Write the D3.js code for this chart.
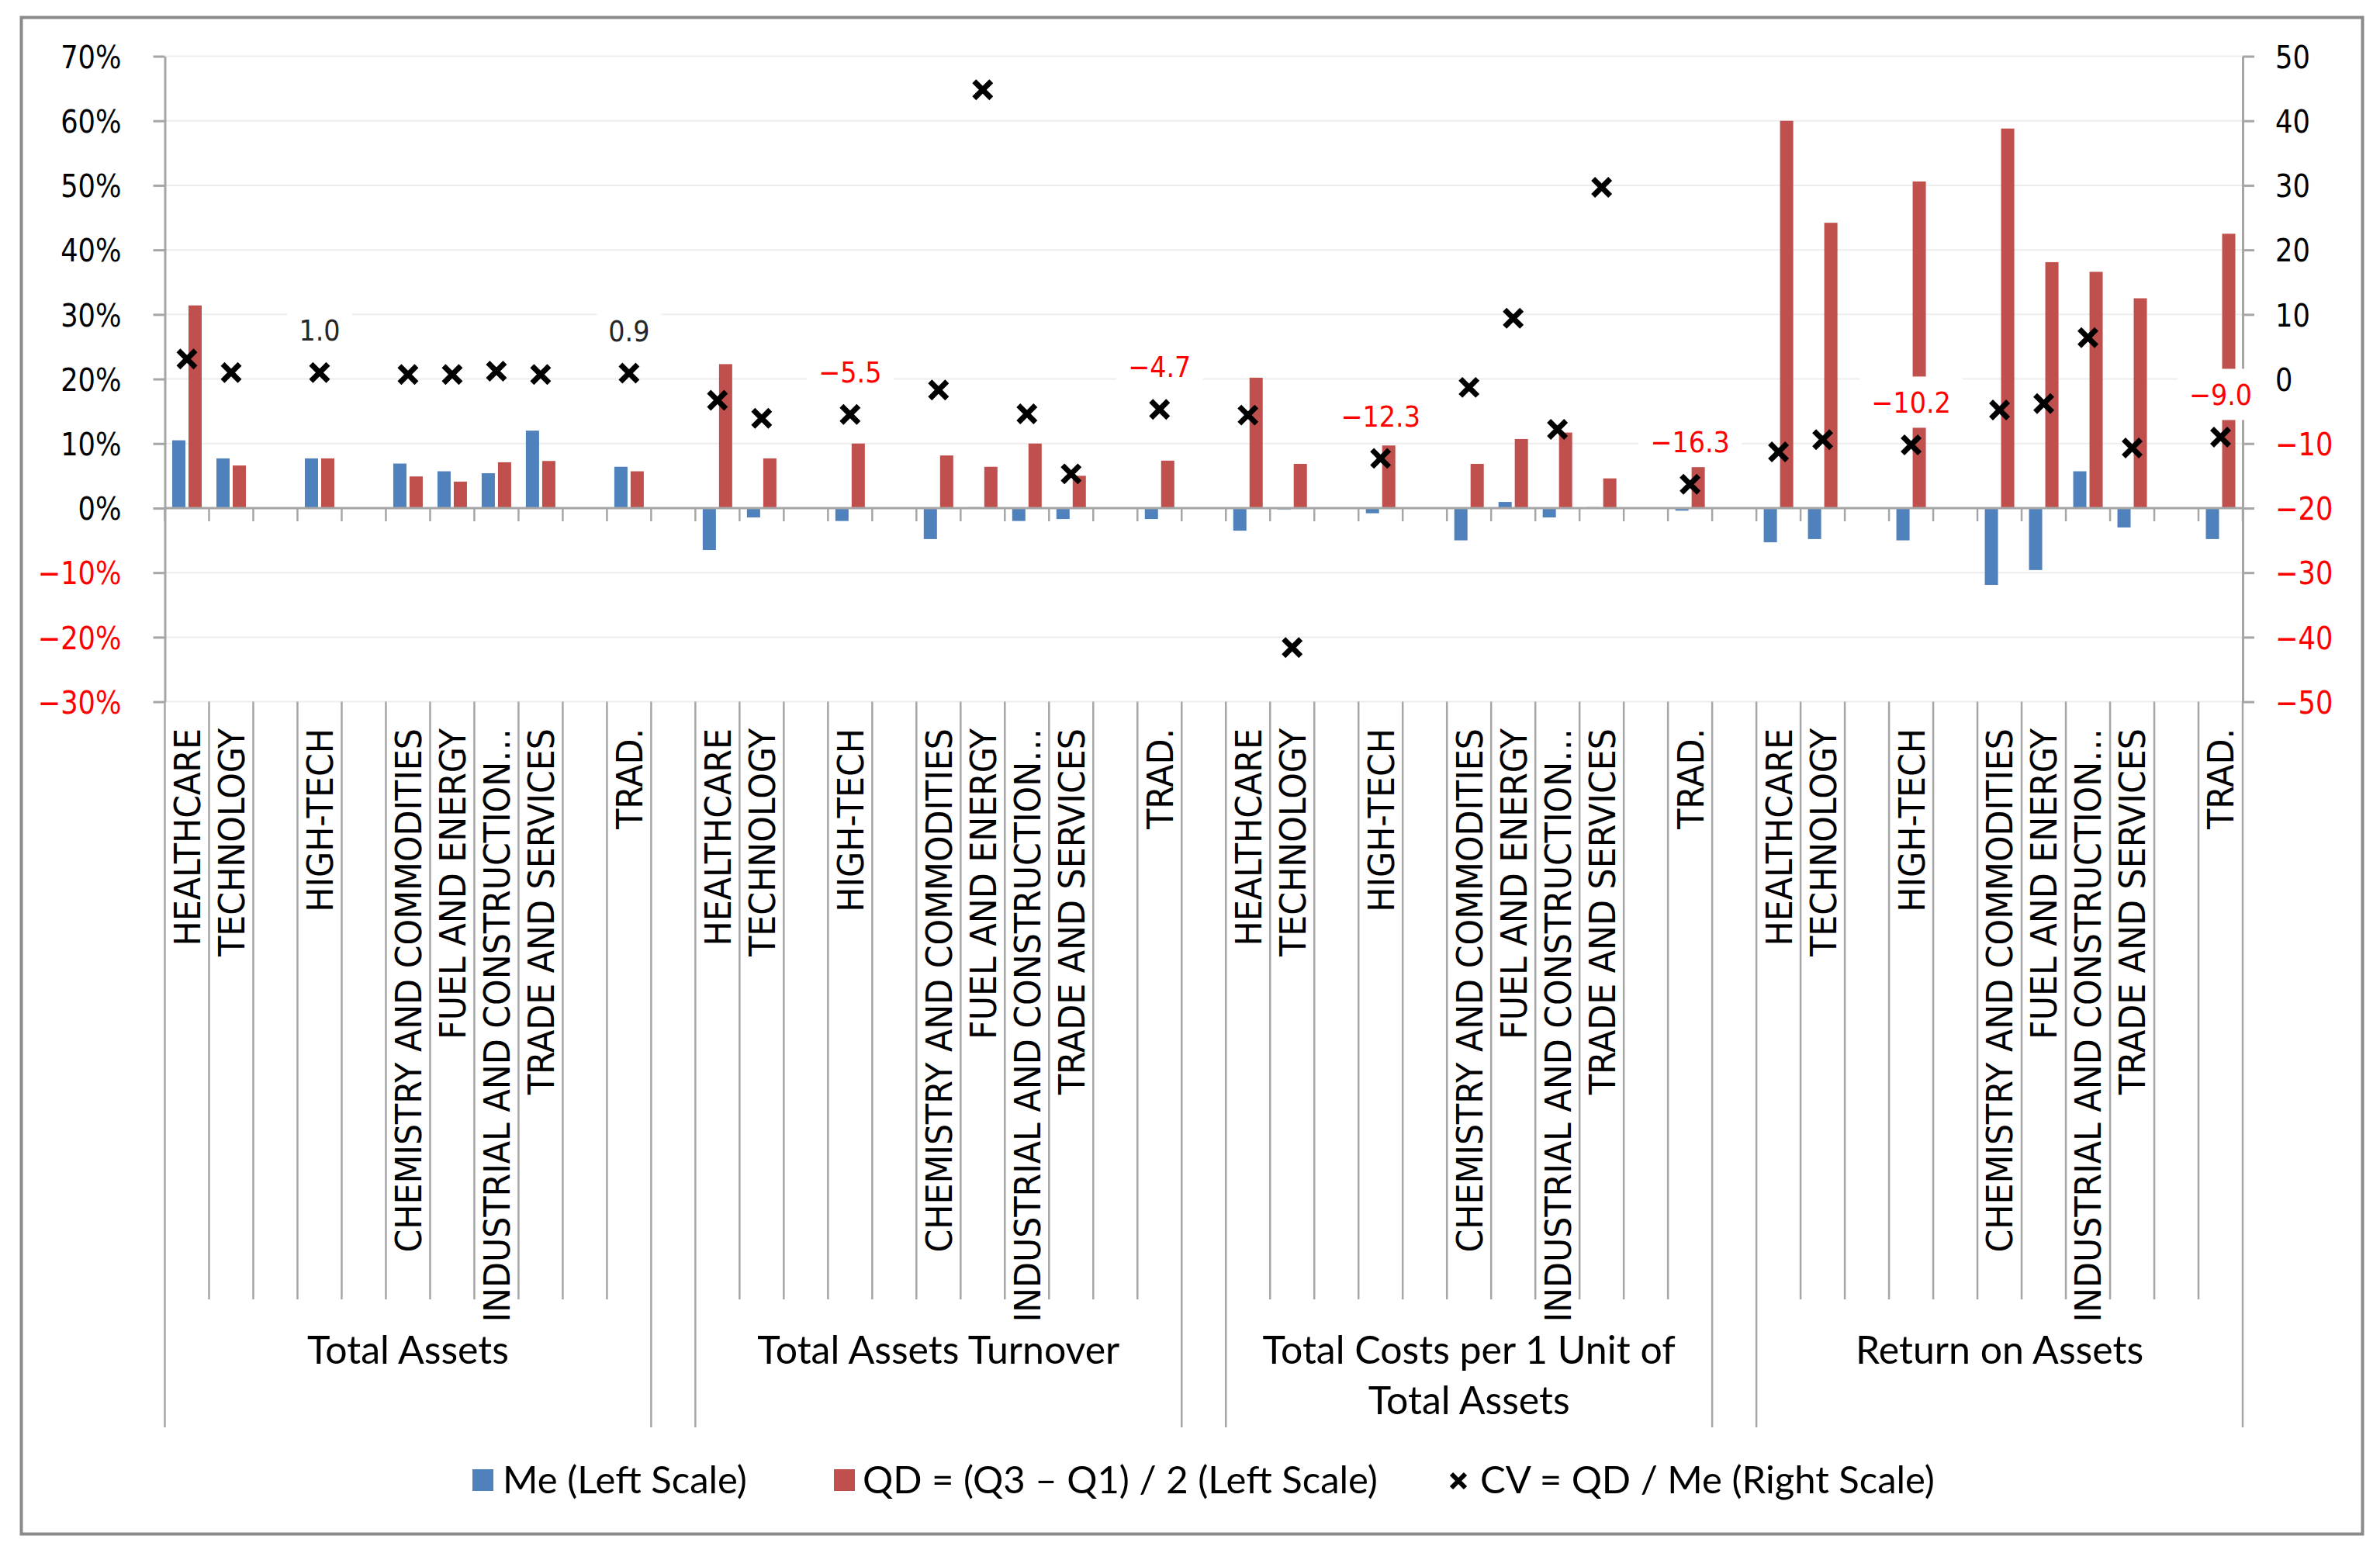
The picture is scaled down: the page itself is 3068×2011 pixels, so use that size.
<!DOCTYPE html>
<html><head><meta charset="utf-8">
<script src="https://cdnjs.cloudflare.com/ajax/libs/d3/7.8.5/d3.min.js"></script>
<style>html,body{margin:0;padding:0;background:#fff;} svg{display:block}</style>
</head><body>
<svg id="chart" width="3068" height="2011"></svg>
<script>
// ---------------- DATA ----------------
const groups = ["Total Assets", "Total Assets Turnover", "Total Costs per 1 Unit of|Total Assets", "Return on Assets"];
const categories = ["HEALTHCARE", "TECHNOLOGY", "", "HIGH-TECH", "", "CHEMISTRY AND COMMODITIES",
  "FUEL AND ENERGY", "INDUSTRIAL AND CONSTRUCTION…", "TRADE AND SERVICES", "", "TRAD."];
// Me (left scale, %)
const meValues = [
  [10.5, 7.7, null, 7.7, null, 6.9, 5.7, 5.4, 12.0, null, 6.4],
  [-6.5, -1.45, null, -2.0, null, -4.8, 0.14, -2.0, -1.7, null, -1.7],
  [-3.5, -0.2, null, -0.8, null, -5.0, 0.95, -1.45, 0.15, null, -0.4],
  [-5.3, -4.8, null, -5.0, null, -11.9, -9.6, 5.7, -3.0, null, -4.8]
];
// QD (left scale, %)
const qdValues = [
  [31.4, 6.6, null, 7.7, null, 4.9, 4.1, 7.1, 7.3, null, 5.7],
  [22.3, 7.7, null, 10.0, null, 8.15, 6.4, 10.0, 5.0, null, 7.35],
  [20.2, 6.85, null, 9.7, null, 6.85, 10.7, 11.7, 4.6, null, 6.55],
  [60.0, 44.2, null, 50.6, null, 58.8, 38.1, 36.6, 32.5, null, 42.5]
];
// CV (right scale)
const cvValues = [
  [3.1, 1.0, null, 1.0, null, 0.7, 0.7, 1.2, 0.7, null, 0.9],
  [-3.3, -6.1, null, -5.5, null, -1.7, 44.8, -5.4, -14.7, null, -4.7],
  [-5.6, -41.6, null, -12.3, null, -1.3, 9.4, -7.8, 29.7, null, -16.3],
  [-11.3, -9.4, null, -10.2, null, -4.8, -3.8, 6.4, -10.7, null, -9.0]
];
const labeledCategories = ["HIGH-TECH", "TRAD."];
const leftTicks = [-30, -20, -10, 0, 10, 20, 30, 40, 50, 60, 70];
const rightTicks = [-50, -40, -30, -20, -10, 0, 10, 20, 30, 40, 50];
const seriesNames = ["Me (Left Scale)", "QD = (Q3 – Q1) / 2 (Left Scale)", "CV = QD / Me (Right Scale)"];

// ---------------- STYLE ----------------
const BLUE = "#4f81bd", RED = "#c0504d", NEG = "#ff0000";
const AXIS = "#a6a6a6";
const svg = d3.select("#chart");

// ---------------- SLOTS ----------------
const slots = [];
groups.forEach((g, gi) => {
  categories.forEach((c, ci) => slots.push({
    id: `g${gi}c${ci}`, gi, cat: c,
    me: meValues[gi][ci], qd: qdValues[gi][ci], cv: cvValues[gi][ci]
  }));
  if (gi < groups.length - 1) slots.push({ id: `gap${gi}`, gi: null, cat: "", spacer: true });
});

const plotL = 212.5, plotR = 2891, plotT = 72.5, plotB = 904.6;
const x = d3.scaleBand().domain(slots.map(d => d.id)).range([plotL, plotR]);
const bw = x.bandwidth();
const xi = d3.scaleBand().domain(["me", "qd"]).range([0, bw]).paddingInner(0.19).paddingOuter(0.452);
const yL = d3.scaleLinear().domain([-30, 70]).range([plotB, plotT]);
const yR = d3.scaleLinear().domain([-50, 50]).range([plotB, plotT]);

// outer border
svg.append("rect").attr("x", 27.5).attr("y", 22.5).attr("width", 3018).attr("height", 1955)
  .attr("fill", "#fff").attr("stroke", "#8a8a8a").attr("stroke-width", 4);

// gridlines
svg.append("g").selectAll("line").data(leftTicks.filter(t => t !== 0)).join("line")
  .attr("x1", plotL).attr("x2", plotR).attr("y1", d => yL(d)).attr("y2", d => yL(d))
  .attr("stroke", "#ededed").attr("stroke-width", 2);

// category separator lines below plot
const sepG = svg.append("g").attr("stroke", AXIS).attr("stroke-width", 2.5);
groups.forEach((g, gi) => {
  const gs = slots.filter(s => s.gi === gi);
  const x0 = x(gs[0].id), x1 = x(gs[gs.length - 1].id) + bw;
  [x0, x1].forEach(xx => sepG.append("line").attr("x1", xx).attr("x2", xx).attr("y1", plotB).attr("y2", 1840));
  gs.slice(1).forEach(s => sepG.append("line").attr("x1", x(s.id)).attr("x2", x(s.id)).attr("y1", plotB).attr("y2", 1675));
});

// bars
const barG = svg.append("g");
const barData = [];
slots.filter(s => !s.spacer).forEach(s => {
  if (s.me != null) barData.push({ s, k: "me", v: s.me });
  if (s.qd != null) barData.push({ s, k: "qd", v: s.qd });
});
barG.selectAll("rect").data(barData).join("rect")
  .attr("x", d => x(d.s.id) + xi(d.k)).attr("width", xi.bandwidth())
  .attr("y", d => yL(Math.max(0, d.v))).attr("height", d => Math.abs(yL(d.v) - yL(0)))
  .attr("fill", d => d.k === "me" ? BLUE : RED);

// zero axis line and ticks
svg.append("line").attr("x1", plotL).attr("x2", plotR).attr("y1", yL(0)).attr("y2", yL(0))
  .attr("stroke", AXIS).attr("stroke-width", 3);
const bounds = slots.map(s => x(s.id)).concat([plotR]);
svg.append("g").selectAll("line").data(bounds).join("line")
  .attr("x1", d => d).attr("x2", d => d).attr("y1", yL(0)).attr("y2", yL(0) + 17)
  .attr("stroke", AXIS).attr("stroke-width", 2.5);

// left axis
const fmtPct = d => (d < 0 ? "\u2212" : "") + Math.abs(d) + "%";
const gl = svg.append("g").attr("transform", `translate(${plotL},0)`)
  .call(d3.axisLeft(yL).tickValues(leftTicks).tickSize(15).tickSizeOuter(0).tickFormat(fmtPct));
gl.attr("font-family", "DejaVu Sans").attr("font-size", 41);
gl.select(".domain").attr("stroke", AXIS).attr("stroke-width", 3);
gl.selectAll(".tick line").attr("stroke", AXIS).attr("stroke-width", 3);
gl.selectAll(".tick text").attr("x", 0).attr("dy", "0.36em")
  .attr("transform", "translate(-56,0) scale(0.86,1)")
  .attr("fill", d => d < 0 ? NEG : "#000");

// right axis
const fmtNum = d => (d < 0 ? "\u2212" : "") + Math.abs(d);
const gr = svg.append("g").attr("transform", `translate(${plotR},0)`)
  .call(d3.axisRight(yR).tickValues(rightTicks).tickSize(15).tickSizeOuter(0).tickFormat(fmtNum));
gr.attr("font-family", "DejaVu Sans").attr("font-size", 41);
gr.select(".domain").attr("stroke", AXIS).attr("stroke-width", 3);
gr.selectAll(".tick line").attr("stroke", AXIS).attr("stroke-width", 3);
gr.selectAll(".tick text").attr("x", 0).attr("dy", "0.36em")
  .attr("transform", "translate(42,0) scale(0.86,1)")
  .attr("fill", d => d < 0 ? NEG : "#000");

// category labels
svg.append("g").selectAll("text").data(slots.filter(s => s.cat)).join("text")
  .attr("transform", d => `translate(${x(d.id) + bw / 2},939) rotate(-90) scale(0.91,1)`)
  .attr("text-anchor", "end").attr("dy", "0.36em")
  .attr("font-family", "DejaVu Sans").attr("font-size", 47).attr("fill", "#000")
  .text(d => d.cat);

// group labels
groups.forEach((g, gi) => {
  const gs = slots.filter(s => s.gi === gi);
  const cx = (x(gs[0].id) + x(gs[gs.length - 1].id) + bw) / 2;
  const t = svg.append("text").attr("text-anchor", "middle")
    .attr("font-family", "Lato, 'Open Sans', sans-serif").attr("font-size", 50).attr("fill", "#000");
  g.split("|").forEach((line, li) => t.append("tspan").attr("x", cx).attr("y", 1758 + li * 65).text(line));
});

// CV markers
const xPath = s => `M${-s},${-s}L${s},${s}M${-s},${s}L${s},${-s}`;
const cvData = slots.filter(s => !s.spacer && s.cv != null);
svg.append("g").selectAll("path").data(cvData).join("path")
  .attr("transform", d => `translate(${x(d.id) + bw / 2},${yR(d.cv)})`)
  .attr("d", xPath(11)).attr("stroke", "#000").attr("stroke-width", 7).attr("fill", "none");

// data labels
const fmt1 = d3.format(".1f");
const labG = svg.append("g");
cvData.filter(d => labeledCategories.includes(d.cat)).forEach(d => {
  const g = labG.append("g").attr("transform", `translate(${x(d.id) + bw / 2},${yR(d.cv) - 55})`);
  const rect = g.append("rect").attr("fill", "#fff");
  const t = g.append("text").attr("text-anchor", "middle").attr("dy", "0.36em")
    .attr("transform", "scale(0.88,1)")
    .attr("font-family", "DejaVu Sans").attr("font-size", 38)
    .attr("fill", d.cv < 0 ? NEG : "#262626").text(fmt1(d.cv));
  const w = t.node().getBBox().width * 0.88 + 30;
  rect.attr("x", -w / 2).attr("y", -33).attr("width", w).attr("height", 66);
});

// legend
const lg = svg.append("g").attr("font-family", "Lato, 'Open Sans', sans-serif").attr("font-size", 49).attr("fill", "#000");
lg.append("rect").attr("x", 609).attr("y", 1894).attr("width", 27).attr("height", 28).attr("fill", BLUE);
lg.append("text").attr("x", 648).attr("y", 1925).text(seriesNames[0]);
lg.append("rect").attr("x", 1075).attr("y", 1894).attr("width", 27).attr("height", 28).attr("fill", RED);
lg.append("text").attr("x", 1112).attr("y", 1925).text(seriesNames[1]);
lg.append("path").attr("transform", "translate(1880,1909)").attr("d", xPath(9))
  .attr("stroke", "#000").attr("stroke-width", 6).attr("fill", "none");
lg.append("text").attr("x", 1908).attr("y", 1925).text(seriesNames[2]);
</script>
</body></html>
